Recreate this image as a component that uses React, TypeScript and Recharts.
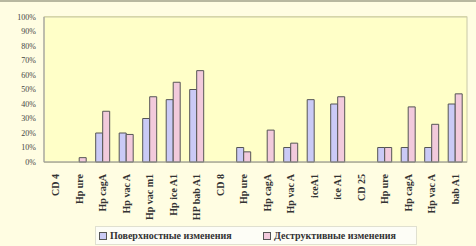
import { Bar, BarChart, CartesianGrid, XAxis, YAxis } from "recharts";

const categories = [
  "CD 4",
  "Hp ure",
  "Hp cagA",
  "Hp vac A",
  "Hp vac m1",
  "Hp ice A1",
  "HP bab A1",
  "CD 8",
  "Hp ure",
  "Hp cagA",
  "Hp vac A",
  "iceA1",
  "ice A1",
  "CD 25",
  "Hp ure",
  "Hp cagA",
  "Hp vac A",
  "bab A1",
];

const surfaceChanges = [0, 0, 20, 20, 30, 43, 50, 0, 10, 0, 10, 43, 40, 0, 10, 10, 10, 40];
const destructiveChanges = [0, 3, 35, 19, 45, 55, 63, 0, 7, 22, 13, 0, 45, 0, 10, 38, 26, 47];

const yTicks = [0, 10, 20, 30, 40, 50, 60, 70, 80, 90, 100];

const data = categories.map((name, i) => ({
  key: `${i}`,
  name,
  surface: surfaceChanges[i],
  destructive: destructiveChanges[i],
}));

const FONT = '"Liberation Serif", "DejaVu Serif", serif';

const CategoryTick = ({ x, y, payload }: any) => {
  const label = categories[Number(payload.value)];
  return (
    <text
      x={x}
      y={y + 4}
      transform={`rotate(-90, ${x}, ${y + 4})`}
      textAnchor="end"
      dominantBaseline="central"
      fontSize={10}
      fontWeight="bold"
      fontFamily={FONT}
      fill="#333"
    >
      {label}
    </text>
  );
};

export default function App() {
  return (
    <div
      style={{
        position: "absolute",
        left: 0,
        top: 0,
        width: 476,
        height: 246,
        background: "#fffde2",
        boxSizing: "border-box",
        borderTop: "2px solid #b8b8a0",
      }}
    >
      <BarChart
        width={476}
        height={244}
        data={data}
        margin={{ top: 15, right: 9, left: 0, bottom: 27 }}
        barCategoryGap="20%"
        barGap={0}
      >
        <rect x={44} y={15} width={423} height={145} fill="#ffffc8" stroke="#c8c8a8" />
        <CartesianGrid vertical={false} stroke="#d8d894" strokeWidth={1.5} />
        <XAxis
          dataKey="key"
          interval={0}
          tick={<CategoryTick />}
          tickLine={false}
          axisLine={{ stroke: "#999" }}
          height={57}
        />
        <YAxis
          domain={[0, 100]}
          ticks={yTicks}
          tickFormatter={(v) => `${v}%`}
          tick={{ fontSize: 8, fill: "#444", fontFamily: FONT }}
          tickLine={false}
          axisLine={{ stroke: "#999" }}
          width={44}
          interval={0}
        />
        <Bar
          dataKey="surface"
          fill="#cacaf6"
          stroke="#555"
          strokeWidth={1}
          isAnimationActive={false}
        />
        <Bar
          dataKey="destructive"
          fill="#f2cadc"
          stroke="#555"
          strokeWidth={1}
          isAnimationActive={false}
        />
      </BarChart>
      <div
        style={{
          position: "absolute",
          left: 95,
          top: 224,
          width: 320,
          height: 17,
          background: "#fdfdf6",
          border: "1px solid #e0e0d0",
          display: "flex",
          alignItems: "center",
          fontFamily: FONT,
          fontSize: 10,
          fontWeight: "bold",
          color: "#333",
        }}
      >
        <span style={{ display: "flex", alignItems: "center", marginLeft: 3, width: 164 }}>
          <span
            style={{
              display: "inline-block",
              width: 6,
              height: 6,
              background: "#cacaf6",
              border: "1px solid #555",
              marginRight: 3,
            }}
          />
          Поверхностные изменения
        </span>
        <span style={{ display: "flex", alignItems: "center" }}>
          <span
            style={{
              display: "inline-block",
              width: 6,
              height: 6,
              background: "#f2cadc",
              border: "1px solid #555",
              marginRight: 3,
            }}
          />
          Деструктивные изменения
        </span>
      </div>
    </div>
  );
}
